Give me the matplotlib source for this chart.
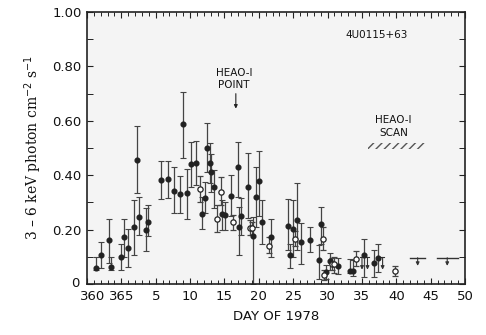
import matplotlib
matplotlib.use("Agg")
import matplotlib.pyplot as plt
from matplotlib.patches import Rectangle
from matplotlib.transforms import ScaledTranslation
import numpy as np

# Day of 1978 (days of 1977 given as day - 365, so 360 -> -5, 365 -> 0)
fill_x = [-3.7, -3.0, -1.8, -1.5, -0.1, 0.4, 0.9, 1.8, 2.3, 2.6, 3.6, 3.9,
          5.7, 6.8, 7.6, 8.5, 9.0, 9.5, 10.1, 10.8, 11.7, 12.2, 12.5, 12.9,
          13.1, 13.5, 14.7, 15.1, 15.9, 16.9, 17.1, 17.4, 18.4, 19.2, 19.6,
          20.0, 20.4, 21.8, 24.2, 24.5, 25.0, 25.6, 26.1, 27.5, 28.7, 29.0,
          29.8, 30.4, 31.5, 33.3, 33.7, 35.3, 36.7, 37.3]
fill_y = [0.060, 0.107, 0.162, 0.061, 0.100, 0.172, 0.131, 0.208, 0.456, 0.248,
          0.199, 0.228, 0.382, 0.385, 0.343, 0.330, 0.587, 0.333, 0.441, 0.446,
          0.256, 0.315, 0.502, 0.446, 0.413, 0.358, 0.257, 0.254, 0.324, 0.429,
          0.211, 0.250, 0.358, 0.178, 0.319, 0.380, 0.228, 0.172, 0.214, 0.107,
          0.204, 0.236, 0.153, 0.162, 0.087, 0.220, 0.045, 0.084, 0.066, 0.047,
          0.048, 0.107, 0.078, 0.097]
fill_lo = [0.051, 0.058, 0.078, 0.050, 0.051, 0.100, 0.064, 0.107, 0.333, 0.180,
           0.122, 0.178, 0.311, 0.315, 0.262, 0.260, 0.464, 0.239, 0.358, 0.364,
           0.201, 0.260, 0.413, 0.370, 0.339, 0.278, 0.199, 0.199, 0.250, 0.321,
           0.107, 0.180, 0.244, 0.000, 0.211, 0.250, 0.149, 0.100, 0.126, 0.058,
           0.100, 0.125, 0.075, 0.117, 0.020, 0.147, 0.020, 0.050, 0.037, 0.040,
           0.030, 0.027, 0.027, 0.045]
fill_hi = [0.100, 0.156, 0.241, 0.100, 0.149, 0.241, 0.201, 0.309, 0.582, 0.321,
           0.278, 0.290, 0.452, 0.452, 0.431, 0.397, 0.707, 0.422, 0.523, 0.527,
           0.321, 0.376, 0.591, 0.517, 0.480, 0.419, 0.309, 0.303, 0.401, 0.523,
           0.284, 0.316, 0.483, 0.248, 0.431, 0.490, 0.309, 0.240, 0.311, 0.147,
           0.309, 0.370, 0.224, 0.208, 0.145, 0.283, 0.070, 0.115, 0.097, 0.091,
           0.090, 0.164, 0.125, 0.146]

open_x = [11.4, 13.9, 14.5, 16.3, 18.7, 19.0, 21.5, 25.3, 29.4, 29.5, 30.7, 31.0, 34.2, 39.8]
open_y = [0.350, 0.241, 0.339, 0.227, 0.207, 0.205, 0.141, 0.166, 0.165, 0.033,
          0.073, 0.075, 0.092, 0.048]
open_lo = [0.303, 0.192, 0.290, 0.199, 0.180, 0.180, 0.113, 0.140, 0.125, 0.015,
           0.050, 0.040, 0.065, 0.029]
open_hi = [0.397, 0.290, 0.392, 0.254, 0.235, 0.230, 0.174, 0.195, 0.208, 0.050,
           0.095, 0.100, 0.120, 0.067]

# upper limits (single days) and HEAO-1 scan upper limits (intervals)
ul_x = [35.0, 35.8, 38.0]
ul_y = [0.098, 0.098, 0.098]
scan_x = [43.1, 47.4]
scan_halfwidth = [1.1, 1.5]
scan_y = [0.097, 0.097]

tick_pos = [-5, 0, 5, 10, 15, 20, 25, 30, 35, 40, 45, 50]
tick_lbl = ['360', '365', '5', '10', '15', '20', '25', '30', '35', '40', '45', '50']
ytick_pos = [0, 0.2, 0.4, 0.6, 0.8, 1.0]
ytick_lbl = ['0', '0.20', '0.40', '0.60', '0.80', '1.00']

fig = plt.figure(figsize=(4.86, 3.35), dpi=100)
ax = fig.add_axes([0.179, 0.152, 0.778, 0.812])
ax.set_facecolor('#f4f4f4')

ink = '#222222'
ebkw = dict(ecolor='#444444', elinewidth=0.9, capsize=2.0, capthick=0.8, linestyle='none')
fy = np.array(fill_y)
ax.errorbar(fill_x, fy, yerr=[fy - np.array(fill_lo), np.array(fill_hi) - fy],
            fmt='o', ms=3.4, mfc=ink, mec=ink, **ebkw)
oy = np.array(open_y)
ax.errorbar(open_x, oy, yerr=[oy - np.array(open_lo), np.array(open_hi) - oy],
            fmt='o', ms=3.8, mfc='white', mec=ink, mew=0.9, **ebkw)

for x, y in zip(ul_x, ul_y):
    ax.annotate('', xy=(x, y - 0.045), xytext=(x, y),
                arrowprops=dict(arrowstyle='-|>', color='#333333', lw=0.8,
                                mutation_scale=5, shrinkA=0, shrinkB=0))
    ax.plot([x - 0.25, x + 0.25], [y, y], color='#333333', lw=0.8)

for x, hw, y in zip(scan_x, scan_halfwidth, scan_y):
    ax.plot([x - hw, x + hw], [y, y], color='#333333', lw=1.0)
    ax.annotate('', xy=(x, y - 0.03), xytext=(x, y),
                arrowprops=dict(arrowstyle='-|>', color='#333333', lw=0.8,
                                mutation_scale=5, shrinkA=0, shrinkB=0))

ax.set_xlim(-5, 50)
ax.set_ylim(0, 1.0)
ax.set_xticks(tick_pos)
ax.set_xticklabels(tick_lbl)
ax.set_xticks(np.arange(-5, 51, 1), minor=True)
ax.set_yticks(ytick_pos)
ax.set_yticklabels(ytick_lbl)
ax.set_yticks(np.arange(0, 1.01, 0.1), minor=True)
ax.tick_params(which='both', direction='in', top=True, right=True, color=ink)
ax.tick_params(which='major', length=4, width=0.8, labelsize=9.5, pad=4, labelcolor='#111111')
ax.tick_params(which='minor', length=3, width=0.7)
ax.tick_params(axis='y', which='minor', length=4)
for s in ax.spines.values():
    s.set_linewidth(1.2)
    s.set_color(ink)

# the hand-lettered "360" sits right of its tick in the original
lbl0 = ax.get_xticklabels()[0]
lbl0.set_transform(lbl0.get_transform() + ScaledTranslation(6 / 100, 0, fig.dpi_scale_trans))
ylbl0 = ax.get_yticklabels()[0]
ylbl0.set_transform(ylbl0.get_transform() + ScaledTranslation(-2 / 100, 2 / 100, fig.dpi_scale_trans))

ax.set_xlabel('DAY OF 1978', fontsize=9.5, labelpad=5, color='#111111')
fig.text(0.068, 0.56, '3 \u2013 6 keV photon cm$^{-2}$ s$^{-1}$', rotation=90,
         ha='center', va='center', fontsize=10, family='DejaVu Serif',
         color='#111111')

ax.text(37.2, 0.915, '4U0115+63', fontsize=7.5, ha='center', va='center', color='#111111')
ax.text(16.4, 0.755, 'HEAO-I\nPOINT', fontsize=7.5, ha='center', va='center',
        linespacing=1.3, color='#111111')
ax.annotate('', xy=(16.65, 0.645), xytext=(16.65, 0.70),
            arrowprops=dict(arrowstyle='-|>', color='#222222', lw=0.8,
                            mutation_scale=5, shrinkA=0, shrinkB=0))
ax.text(39.6, 0.58, 'HEAO-I\nSCAN', fontsize=7.5, ha='center', va='center',
        linespacing=1.3, color='#111111')
ax.add_patch(Rectangle((35.9, 0.497), 8.2, 0.022, hatch='////', fill=False,
                       linewidth=0, edgecolor='#555555'))

fig.savefig('out.png', dpi=100, facecolor='white')
